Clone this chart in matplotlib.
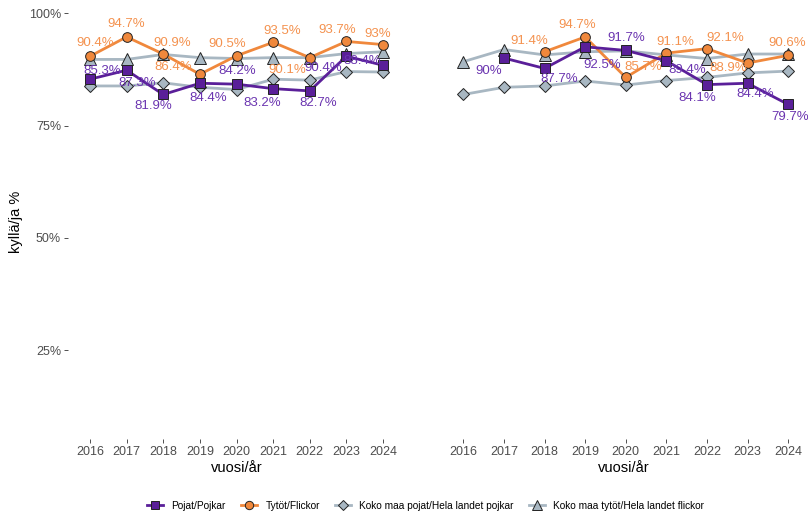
import numpy as np
import matplotlib
matplotlib.use('Agg')
from matplotlib import pyplot as plt
from matplotlib.lines import Line2D
from matplotlib.ticker import FuncFormatter

plt.rcParams['font.family'] = ['Liberation Sans', 'DejaVu Sans']

years = [2016, 2017, 2018, 2019, 2020, 2021, 2022, 2023, 2024]

# left panel
pojat_l = [85.3, 87.3, 81.9, 84.4, 84.2, 83.2, 82.7, 90.4, 88.4]
tytot_l = [90.4, 94.7, 90.9, 86.4, 90.5, 93.5, 90.1, 93.7, 93.0]
maa_pojat_l = [83.8, 83.8, 84.5, 83.5, 83.0, 85.3, 85.1, 87.0, 86.9]
maa_tytot_l = [89.7, 89.7, 90.8, 90.1, 89.9, 90.1, 90.1, 91.0, 91.4]

# right panel (missing years as nan)
pojat_r = [np.nan, 90.0, 87.7, 92.5, 91.7, 89.4, 84.1, 84.4, 79.7]
tytot_r = [np.nan, np.nan, 91.4, 94.7, 85.7, 91.1, 92.1, 88.9, 90.6]
maa_pojat_r = [81.9, 83.5, 83.8, 84.9, 84.0, 85.0, 85.7, 86.7, 87.1]
maa_tytot_r = [89.2, 91.9, 90.7, 91.4, 91.6, 90.7, 89.9, 90.9, 90.9]

# label offsets in pixels (dx, dy), mimicking repelled labels
off_t_l = [(5, 13), (0, 13), (9, 11), (-27, 7), (-9, 12), (9, 11), (-23, -12), (-9, 11), (-5, 11)]
off_p_l = [(12, 8), (11, -13), (-10, -12), (8, -15), (1, 13), (-11, -14), (8, -12), (-23, -12), (-21, 4)]
off_t_r = [None, None, (-15, 11), (-8, 12), (17, 10), (9, 11), (18, 11), (-19, -5), (-1, 12)]
off_p_r = [None, (-15, -13), (15, -11), (17, -18), (1, 12), (21, -9), (-10, -13), (8, -11), (2, -13)]

PURPLE = '#5a1f99'
PURPLE_TXT = '#6b35b0'
ORANGE = '#f0883c'
ORANGE_TXT = '#f4924f'
GRAY = '#a8b7c2'


def fmt(v):
    s = ('%.1f' % v).rstrip('0').rstrip('.')
    return s + '%'


def draw_panel(ax, pojat, tytot, maa_p, maa_t, off_p, off_t, xlim):
    ax.plot(years, maa_t, color=GRAY, lw=2, marker='^', ms=8, mfc=GRAY, mec='#222222', mew=0.7, zorder=2)
    ax.plot(years, maa_p, color=GRAY, lw=2, marker='D', ms=6, mfc=GRAY, mec='#222222', mew=0.7, zorder=2)
    ax.plot(years, tytot, color=ORANGE, lw=2, marker='o', ms=7, mfc=ORANGE, mec='#222222', mew=0.7, zorder=3)
    ax.plot(years, pojat, color=PURPLE, lw=2, marker='s', ms=7, mfc=PURPLE, mec='#222222', mew=0.7, zorder=3)
    for x, v, o in zip(years, tytot, off_t):
        if np.isnan(v):
            continue
        ax.annotate(fmt(v), (x, v), xytext=o, textcoords='offset pixels',
                    ha='center', va='center', color=ORANGE_TXT, fontsize=9.5, zorder=4)
    for x, v, o in zip(years, pojat, off_p):
        if np.isnan(v):
            continue
        ax.annotate(fmt(v), (x, v), xytext=o, textcoords='offset pixels',
                    ha='center', va='center', color=PURPLE_TXT, fontsize=9.5, zorder=4)
    ax.set_xlim(*xlim)
    ax.set_ylim(5.3, 101.8)
    ax.set_xticks(years)
    ax.set_xticklabels([str(y) for y in years], fontsize=9, color='#4d4d4d')
    ax.set_xlabel('vuosi/år', fontsize=10.5, labelpad=2)
    ax.set_yticks([25, 50, 75, 100])
    for s in ax.spines.values():
        s.set_visible(False)
    ax.tick_params(axis='x', length=3, width=0.6, color='#333333', pad=2)


fig = plt.figure(figsize=(8.08, 5.14), dpi=100)
ax1 = fig.add_axes([68 / 808, 75 / 514, 337 / 808, 434 / 514])
ax2 = fig.add_axes([439 / 808, 75 / 514, 369 / 808, 434 / 514])

draw_panel(ax1, pojat_l, tytot_l, maa_pojat_l, maa_tytot_l, off_p_l, off_t_l, (2015.4, 2024.6))
draw_panel(ax2, pojat_r, tytot_r, maa_pojat_r, maa_tytot_r, off_p_r, off_t_r, (2015.4, 2024.49))

ax1.yaxis.set_major_formatter(FuncFormatter(lambda v, p: '%d%%' % v))
ax1.tick_params(axis='y', length=3, width=0.6, color='#333333', labelsize=9, labelcolor='#4d4d4d', pad=2)
ax1.set_ylabel('kyllä/ja %', fontsize=10.5, labelpad=4)
ax2.tick_params(axis='y', left=False, labelleft=False)

handles = [
    Line2D([], [], color=PURPLE, lw=2, marker='s', ms=6, mfc=PURPLE, mec='#222222', mew=0.7),
    Line2D([], [], color=ORANGE, lw=2, marker='o', ms=6, mfc=ORANGE, mec='#222222', mew=0.7),
    Line2D([], [], color=GRAY, lw=2, marker='D', ms=5, mfc=GRAY, mec='#222222', mew=0.7),
    Line2D([], [], color=GRAY, lw=2, marker='^', ms=7, mfc=GRAY, mec='#222222', mew=0.7),
]
labels = ['Pojat/Pojkar', 'Tytöt/Flickor', 'Koko maa pojat/Hela landet pojkar', 'Koko maa tytöt/Hela landet flickor']
fig.legend(handles, labels, loc='lower center', bbox_to_anchor=(0.527, -0.012), ncol=4, frameon=False,
           fontsize=7.3, handlelength=1.6, handletextpad=0.8, columnspacing=1.5)

fig.savefig('out.png', dpi=100)
